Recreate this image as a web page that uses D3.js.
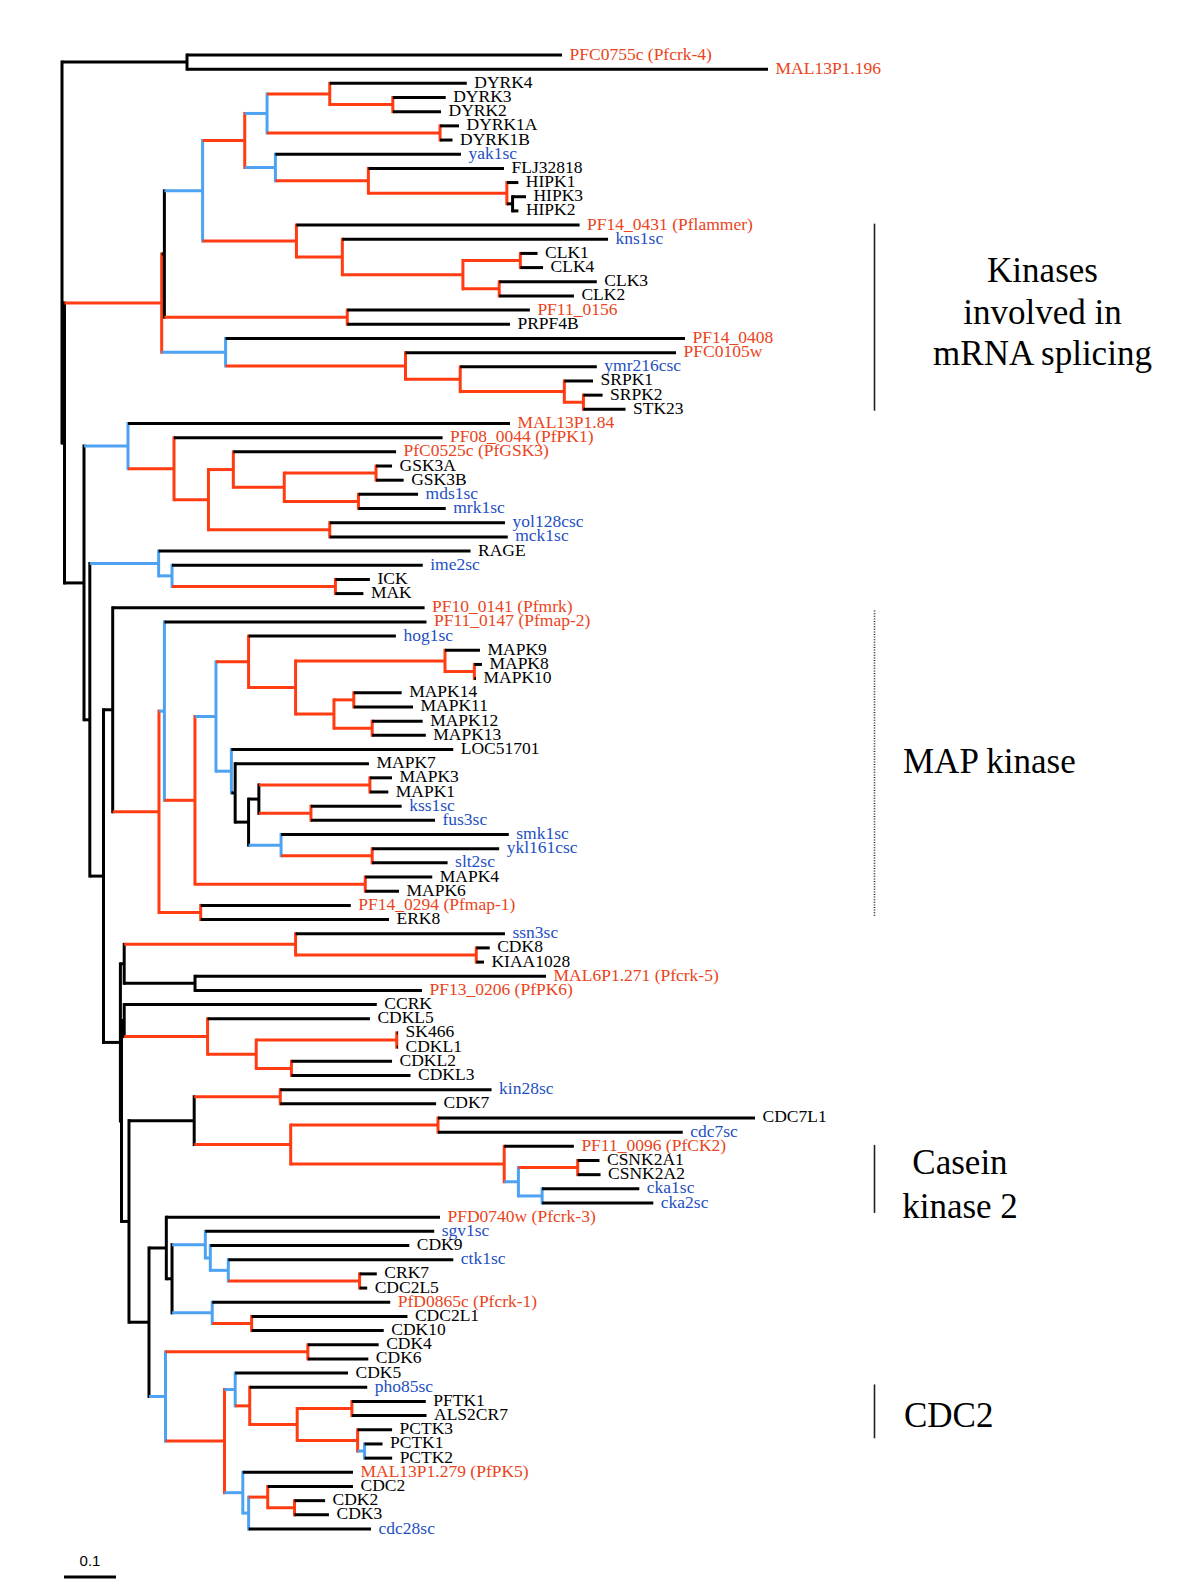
<!DOCTYPE html>
<html><head><meta charset="utf-8">
<script src="https://cdn.jsdelivr.net/npm/d3@7"></script>
<style>body{margin:0;background:#fff}svg{display:block}</style>
</head><body>
<svg id="chart" width="1196" height="1596"></svg>
<script>
// ---------- DATA ----------
// [node, parent, branch length (substitutions/site), support class: 0 none, 1 red, 2 blue]
const branches = [
["R",null,0,0],
["A","R",0.2404,0],["PFC0755c (Pfcrk-4)","A",0.7212,0],["MAL13P1.196","A",1.1173,0],
["X","R",0.0048,0],
["S1","X",0.1869,1],["S2","S1",0.0052,0],
["D0","S2",0.0735,2],["D1","D0",0.0810,1],["D2","D1",0.0429,2],["D3","D2",0.1206,1],
["DYRK4","D3",0.2635,0],["D4","D3",0.1213,1],["DYRK3","D4",0.1017,0],["DYRK2","D4",0.0927,0],
["D5","D2",0.3327,1],["DYRK1A","D5",0.0365,0],["DYRK1B","D5",0.0240,0],
["H0","D1",0.0590,2],["yak1sc","H0",0.3569,0],["H1","H0",0.1788,1],["FLJ32818","H1",0.2608,0],
["H2","H1",0.2663,1],["HIPK1","H2",0.0221,0],["H3","H2",0.0110,0],["HIPK3","H3",0.0258,0],["HIPK2","H3",0.0112,0],
["C0","D0",0.1804,1],["PF14_0431 (Pflammer)","C0",0.5446,0],["C1","C0",0.0883,1],["kns1sc","C1",0.5110,0],
["C2","C1",0.2319,1],["C3","C2",0.1104,1],["CLK1","C3",0.0331,0],["CLK4","C3",0.0437,0],
["C4","C2",0.0698,1],["CLK3","C4",0.1877,0],["CLK2","C4",0.1437,0],
["PF","S2",0.3517,1],["PF11_0156","PF",0.3512,0],["PRPF4B","PF",0.3129,0],
["G0","S1",0.1229,2],["PF14_0408","G0",0.8835,0],["G1","G0",0.3460,1],["PFC0105w","G1",0.5202,0],
["G2","G1",0.1052,1],["ymr216csc","G2",0.2627,0],["G3","G2",0.2002,1],["SRPK1","G3",0.0552,0],
["G4","G3",0.0367,1],["SRPK2","G4",0.0369,0],["STK23","G4",0.0810,0],
["Y","X",0.0375,0],
["M0","Y",0.0846,2],["MAL13P1.84","M0",0.7346,0],["M1","M0",0.0885,1],["PF08_0044 (PfPK1)","M1",0.5165,0],
["M2","M1",0.0662,1],["M3","M2",0.0479,1],["PfC0525c (PfGSK3)","M3",0.3129,0],["M4","M3",0.0979,1],
["M5a","M4",0.1765,1],["GSK3A","M5a",0.0308,0],["GSK3B","M5a",0.0531,0],
["M5b","M4",0.1427,1],["mds1sc","M5b",0.1146,0],["mrk1sc","M5b",0.1679,0],
["M6","M2",0.2333,1],["yol128csc","M6",0.3371,0],["mck1sc","M6",0.3423,0],
["Z","Y",0.0112,0],
["RG","Z",0.1323,2],["RAGE","RG",0.5998,0],["RG2","RG",0.0258,2],["ime2sc","RG2",0.4821,0],
["RG3","RG2",0.3142,1],["ICK","RG3",0.0663,0],["MAK","RG3",0.0538,0],
["W","Z",0.0263,0],
["V","W",0.0177,0],["PF10_0141 (Pfmrk)","V",0.5998,0],
["MK0","V",0.0890,1],["MK1","MK0",0.0104,2],["PF11_0147 (Pfmap-2)","MK1",0.5040,0],
["MK2","MK1",0.0588,1],["MK3","MK2",0.0404,2],["MK4","MK3",0.0627,1],["hog1sc","MK4",0.2833,0],
["MK5","MK4",0.0904,1],["MK6a","MK5",0.2873,1],["MAPK9","MK6a",0.0673,0],["MK6a2","MK6a",0.0565,1],
["MAPK8","MK6a2",0.0146,0],["MAPK10","MK6a2",0.0031,0],
["MK6b","MK5",0.0738,1],["MK6c","MK6b",0.0381,1],["MAPK14","MK6c",0.0921,0],["MAPK11","MK6c",0.1140,0],
["MK6d","MK6b",0.0735,1],["MAPK12","MK6d",0.0971,0],["MAPK13","MK6d",0.1031,0],
["MK7","MK3",0.0296,2],["LOC51701","MK7",0.4267,0],["MK8","MK7",0.0073,0],["MAPK7","MK8",0.2573,0],
["MK9","MK8",0.0258,0],["MK10","MK9",0.0198,0],["MK11","MK10",0.2135,1],["MAPK3","MK11",0.0425,0],["MAPK1","MK11",0.0354,0],
["MK12","MK10",0.1002,1],["kss1sc","MK12",0.1744,0],["fus3sc","MK12",0.2385,0],
["MK13","MK9",0.0625,2],["smk1sc","MK13",0.4379,0],["MK14","MK13",0.1752,1],["ykl161csc","MK14",0.2442,0],["slt2sc","MK14",0.1450,0],
["MK46","MK2",0.3275,1],["MAPK4","MK46",0.1288,0],["MAPK6","MK46",0.0648,0],
["MKERK","MK0",0.0802,1],["PF14_0294 (Pfmap-1)","MKERK",0.2887,0],["ERK8","MKERK",0.3621,0],
["Ua","W",0.0325,0],
["K3","Ua",0.0073,0],["K0","K3",0.3296,1],["ssn3sc","K0",0.4027,0],["K1","K0",0.3475,1],
["CDK8","K1",0.0258,0],["KIAA1028","K1",0.0148,0],
["K2","K3",0.1362,0],["MAL6P1.271 (Pfcrk-5)","K2",0.6750,0],["PF13_0206 (PfPK6)","K2",0.4365,0],
["Ub","Ua",0.0021,0],
["K4","Ub",0.0052,0],["CCRK","K4",0.4858,0],["L0","K4",0.1604,1],["CDKL5","L0",0.3121,0],
["L1","L0",0.0935,1],["L2","L1",0.2702,1],["SK466","L2",0.0025,0],["CDKL1","L2",0.0025,0],
["L3","L1",0.0677,1],["CDKL2","L3",0.1935,0],["CDKL3","L3",0.2290,0],
["P1","Ub",0.0144,0],
["T0","P1",0.1254,0],["T1","T0",0.1656,1],["kin28sc","T1",0.4063,0],["CDK7","T1",0.2996,0],
["T2","T0",0.1856,1],["T3","T2",0.2833,1],["CDC7L1","T3",0.6096,0],["cdc7sc","T3",0.4706,0],
["T4","T2",0.4106,1],["PF11_0096 (PfCK2)","T4",0.1340,0],["T5","T4",0.0273,2],
["T6","T5",0.1140,1],["CSNK2A1","T6",0.0419,0],["CSNK2A2","T6",0.0440,0],
["T7","T5",0.0456,2],["cka1sc","T7",0.1869,0],["cka2sc","T7",0.2138,0],
["P2","P1",0.0385,0],
["P3","P2",0.0333,0],["PFD0740w (Pfcrk-3)","P3",0.5263,0],["P4","P3",0.0110,0],
["P5","P4",0.0640,2],["sgv1sc","P5",0.4402,0],["P6","P5",0.0096,2],["CDK9","P6",0.3827,0],
["P7","P6",0.0346,2],["ctk1sc","P7",0.4327,0],["P8","P7",0.2525,1],["CRK7","P8",0.0331,0],["CDC2L5","P8",0.0146,0],
["P9","P4",0.0773,2],["PfD0865c (Pfcrk-1)","P9",0.3423,0],["P10","P9",0.0758,1],["CDC2L1","P10",0.2996,0],["CDK10","P10",0.2540,0],
["Cc","P2",0.0317,2],
["C46","Cc",0.2738,1],["CDK4","C46",0.1362,0],["CDK6","C46",0.1163,0],
["Cc2","Cc",0.1135,1],["Cc3","Cc2",0.0206,2],["CDK5","Cc3",0.2169,0],["Cc4","Cc3",0.0279,1],["pho85sc","Cc4",0.2260,0],
["Cc5","Cc4",0.0913,1],["Cc5a","Cc5",0.1052,1],["PFTK1","Cc5a",0.1421,0],["ALS2CR7","Cc5a",0.1435,0],
["Cc5b","Cc5",0.1162,1],["PCTK3","Cc5b",0.0663,0],["Cc5c","Cc5b",0.0133,2],["PCTK1","Cc5c",0.0346,0],["PCTK2","Cc5c",0.0531,0],
["Cc6","Cc2",0.0352,2],["MAL13P1.279 (PfPK5)","Cc6",0.2119,0],["Cc7","Cc6",0.0112,2],
["Cc8","Cc7",0.0367,1],["CDC2","Cc8",0.1640,0],["Cc9","Cc8",0.0515,1],["CDK2","Cc9",0.0588,0],["CDK3","Cc9",0.0663,0],
["cdc28sc","Cc7",0.2354,0]
];

// species of the leaves (others are human)
const pfLeaves = ["PFC0755c (Pfcrk-4)","MAL13P1.196","PF14_0431 (Pflammer)","PF11_0156","PF14_0408","PFC0105w",
  "MAL13P1.84","PF08_0044 (PfPK1)","PfC0525c (PfGSK3)","PF10_0141 (Pfmrk)","PF11_0147 (Pfmap-2)","PF14_0294 (Pfmap-1)",
  "MAL6P1.271 (Pfcrk-5)","PF13_0206 (PfPK6)","PF11_0096 (PfCK2)","PFD0740w (Pfcrk-3)","PfD0865c (Pfcrk-1)","MAL13P1.279 (PfPK5)"];
const scLeaves = ["yak1sc","kns1sc","ymr216csc","mds1sc","mrk1sc","yol128csc","mck1sc","ime2sc","hog1sc","kss1sc",
  "fus3sc","smk1sc","ykl161csc","slt2sc","ssn3sc","kin28sc","cdc7sc","cka1sc","cka2sc","sgv1sc","ctk1sc","pho85sc","cdc28sc"];

// clade annotations: text lines, span in leaf rows (fractional), dotted bracket?
const cladeNames = [["Kinases","involved in","mRNA splicing"],["MAP kinase"],["Casein","kinase 2"],["CDC2"]];
const cladeRows = [[11.9,25.1],[39.2,60.8],[76.9,81.7],[93.8,97.6]];
const cladeDotted = [false,true,false,false];

const scaleBarValue = 0.1;

// ---------- LAYOUT / STYLE ----------
const supportColor = ["#000000","#ff3c12","#4ea2f2"];
const labelColor = {pf:"#ea4420", sc:"#1e4fc2", hs:"#000000"};
const annLayout = [
  {x:1042.5, anchor:"middle", baselines:[282,323.5,365]},
  {x:903, anchor:"start", baselines:[773]},
  {x:960, anchor:"middle", baselines:[1174,1218]},
  {x:904, anchor:"start", baselines:[1426.5]}
];

const svg = d3.select("#chart");
svg.append("rect").attr("width",1196).attr("height",1596).attr("fill","#fff");

const table = branches.map(([id,parent,len,support]) => ({id,parent,len,support}));
const root = d3.stratify().id(d=>d.id).parentId(d=>d.parent)(table);
root.eachBefore(n => { n.dist = n.parent ? n.parent.dist + n.data.len : 0; });
const leaves = root.leaves();

const x = d3.scaleLinear().domain([0,1]).range([62,582]);
const y = d3.scaleLinear().domain([0,leaves.length-1]).range([55,1529]);
leaves.forEach((l,i)=>{ l.yPos = y(i); });
root.eachAfter(n => { if (n.children) n.yPos = (n.children[0].yPos + n.children[n.children.length-1].yPos)/2; });

const nodes = root.descendants();
const gTree = svg.append("g");

// vertical connectors
gTree.selectAll("line.v").data(nodes.filter(n=>n.children)).join("line")
  .attr("class","v")
  .attr("x1",n=>x(n.dist)).attr("x2",n=>x(n.dist))
  .attr("y1",n=>n.children[0].yPos).attr("y2",n=>n.children[n.children.length-1].yPos)
  .attr("stroke",n=>supportColor[n.data.support]).attr("stroke-width",3)
  .attr("stroke-linecap","square");

// horizontal branches
gTree.selectAll("line.h").data(nodes.filter(n=>n.parent)).join("line")
  .attr("class","h")
  .attr("x1",n=>x(n.parent.dist)).attr("x2",n=>x(n.dist))
  .attr("y1",n=>n.yPos).attr("y2",n=>n.yPos)
  .attr("stroke",n=>supportColor[n.data.support]).attr("stroke-width",3);

// leaf labels
const species = id => pfLeaves.includes(id) ? "pf" : (scLeaves.includes(id) ? "sc" : "hs");
svg.append("g").selectAll("text").data(leaves).join("text")
  .attr("x",n=>x(n.dist)+7.5).attr("y",n=>n.yPos+4.5)
  .attr("font-family","'Liberation Serif','Times New Roman',serif")
  .attr("font-size",17.5)
  .attr("fill",n=>labelColor[species(n.id)])
  .text(n=>n.id);

// clade annotations
const gAnn = svg.append("g");
cladeNames.forEach((lines,i)=>{
  const [r0,r1] = cladeRows[i];
  gAnn.append("line").attr("x1",874.5).attr("x2",874.5)
    .attr("y1",y(r0)).attr("y2",y(r1))
    .attr("stroke","#222").attr("stroke-width",cladeDotted[i]?1.6:1.6)
    .attr("stroke-dasharray",cladeDotted[i]?"1,1.6":null);
  const L = annLayout[i];
  lines.forEach((t,j)=>{
    gAnn.append("text").attr("x",L.x).attr("y",L.baselines[j])
      .attr("text-anchor",L.anchor)
      .attr("font-family","'Liberation Serif','Times New Roman',serif")
      .attr("font-size",35).attr("fill","#000").text(t);
  });
});

// scale bar
const barX0 = 64;
svg.append("line").attr("x1",barX0).attr("x2",barX0 + x(scaleBarValue)-x(0))
  .attr("y1",1577).attr("y2",1577).attr("stroke","#000").attr("stroke-width",3);
svg.append("text").attr("x",barX0 + (x(scaleBarValue)-x(0))/2).attr("y",1566)
  .attr("text-anchor","middle").attr("font-family","'Liberation Sans',Arial,sans-serif")
  .attr("font-size",15).text(String(scaleBarValue));
</script>
</body></html>
